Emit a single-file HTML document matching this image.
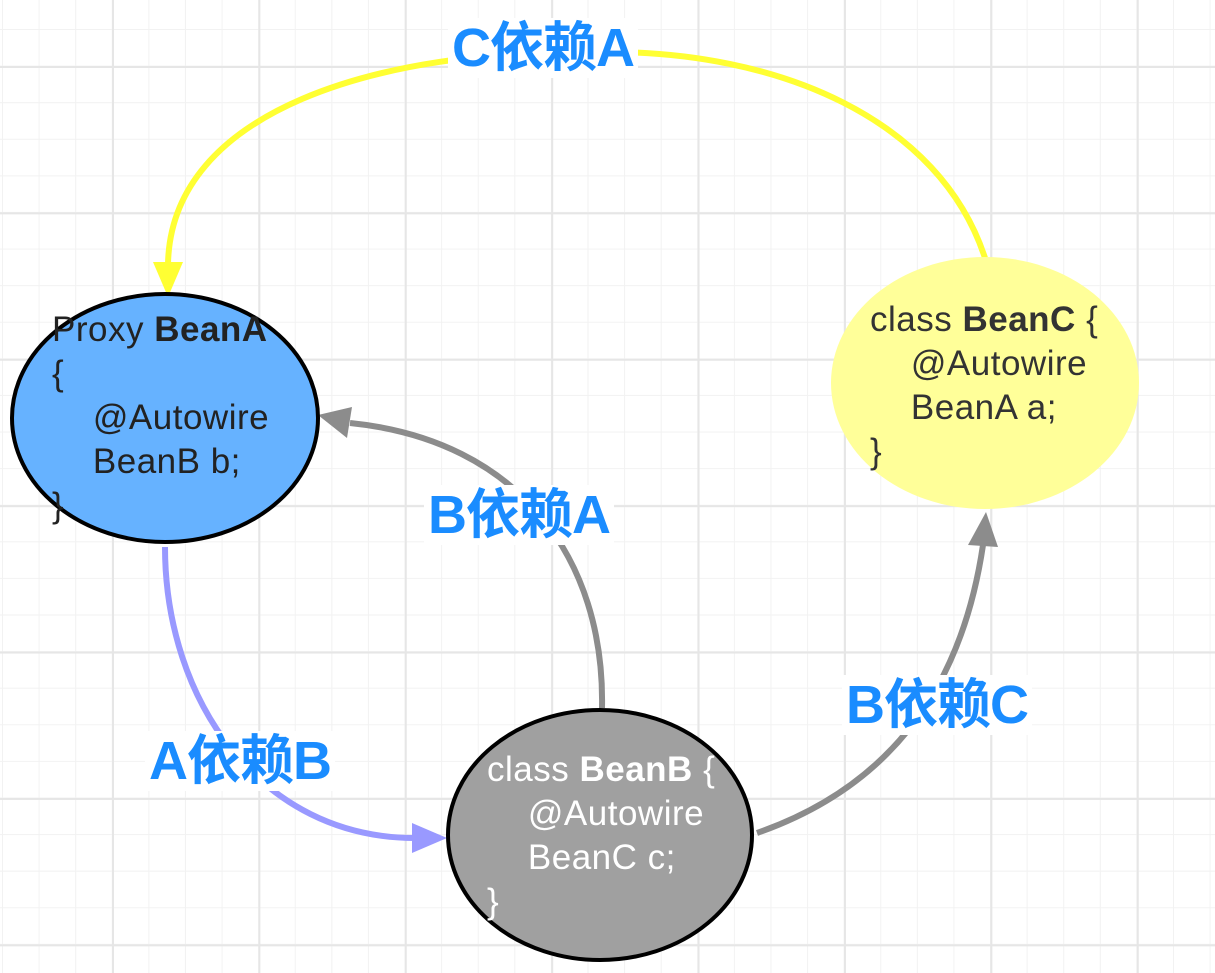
<!DOCTYPE html>
<html><head><meta charset="utf-8"><style>
html,body{margin:0;padding:0;background:#fff}
body{width:1215px;height:973px;overflow:hidden;position:relative;
background-image:
linear-gradient(#e6e6e6 2px,transparent 2px),
linear-gradient(90deg,#e6e6e6 2px,transparent 2px),
linear-gradient(#f2f2f2 1px,transparent 1px),
linear-gradient(90deg,#f2f2f2 1px,transparent 1px);
background-size:146.4px 146.4px,146.4px 146.4px,36.6px 36.6px,36.6px 36.6px;
background-position:0 66px,112px 0,0 29px,2px 0;}
svg{position:absolute;left:0;top:0}
.lbl{position:absolute;background:#fff;color:#1a8cff;font:bold 54px "Liberation Sans","Noto Sans CJK SC",sans-serif;line-height:60px;padding:0 4px;letter-spacing:-1px}
.t{position:absolute;font:35px "Liberation Sans","Noto Sans CJK SC",sans-serif;line-height:44px;white-space:pre;letter-spacing:0.5px}
</style></head><body>
<svg width="1215" height="973">
<path d="M985,258 C940,120 780,50 600,52 C380,48 170,110 168,265" fill="none" stroke="#ffff33" stroke-width="6"/>
<path d="M153,262 L183,262 L168,297z" fill="#ffff33"/>
<path d="M165,547 C165,700 260,838 415,838" fill="none" stroke="#9999ff" stroke-width="6"/>
<path d="M412,823 L412,853 L447,838z" fill="#9999ff"/>
<path d="M602,708 C605,560 520,440 350,423" fill="none" stroke="#8c8c8c" stroke-width="6"/>
<path d="M352,407 L347,438 L318,415z" fill="#8c8c8c"/>
<path d="M757,833 C880,790 960,700 983,545" fill="none" stroke="#8c8c8c" stroke-width="6"/>
<path d="M968,545 L998,547 L986,512z" fill="#8c8c8c"/>
<ellipse cx="165" cy="418" rx="153" ry="124" fill="#66b2ff" stroke="#000" stroke-width="4"/>
<ellipse cx="600" cy="835" rx="152" ry="125" fill="#a0a0a0" stroke="#000" stroke-width="4"/>
<ellipse cx="985" cy="383" rx="154" ry="126" fill="#ffff99"/>
</svg>
<div class="t" style="left:52px;top:308px;color:#222">Proxy <b>BeanA</b>
{
    @Autowire
    BeanB b;
}</div>
<div class="t" style="left:487px;top:748px;color:#fff">class <b>BeanB</b> {
    @Autowire
    BeanC c;
}</div>
<div class="t" style="left:870px;top:298px;color:#333">class <b>BeanC</b> {
    @Autowire
    BeanA a;
}</div>
<div class="lbl" style="left:448px;top:18px">C依赖A</div>
<div class="lbl" style="left:424px;top:485px">B依赖A</div>
<div class="lbl" style="left:145px;top:731px">A依赖B</div>
<div class="lbl" style="left:842px;top:675px">B依赖C</div>
</body></html>
